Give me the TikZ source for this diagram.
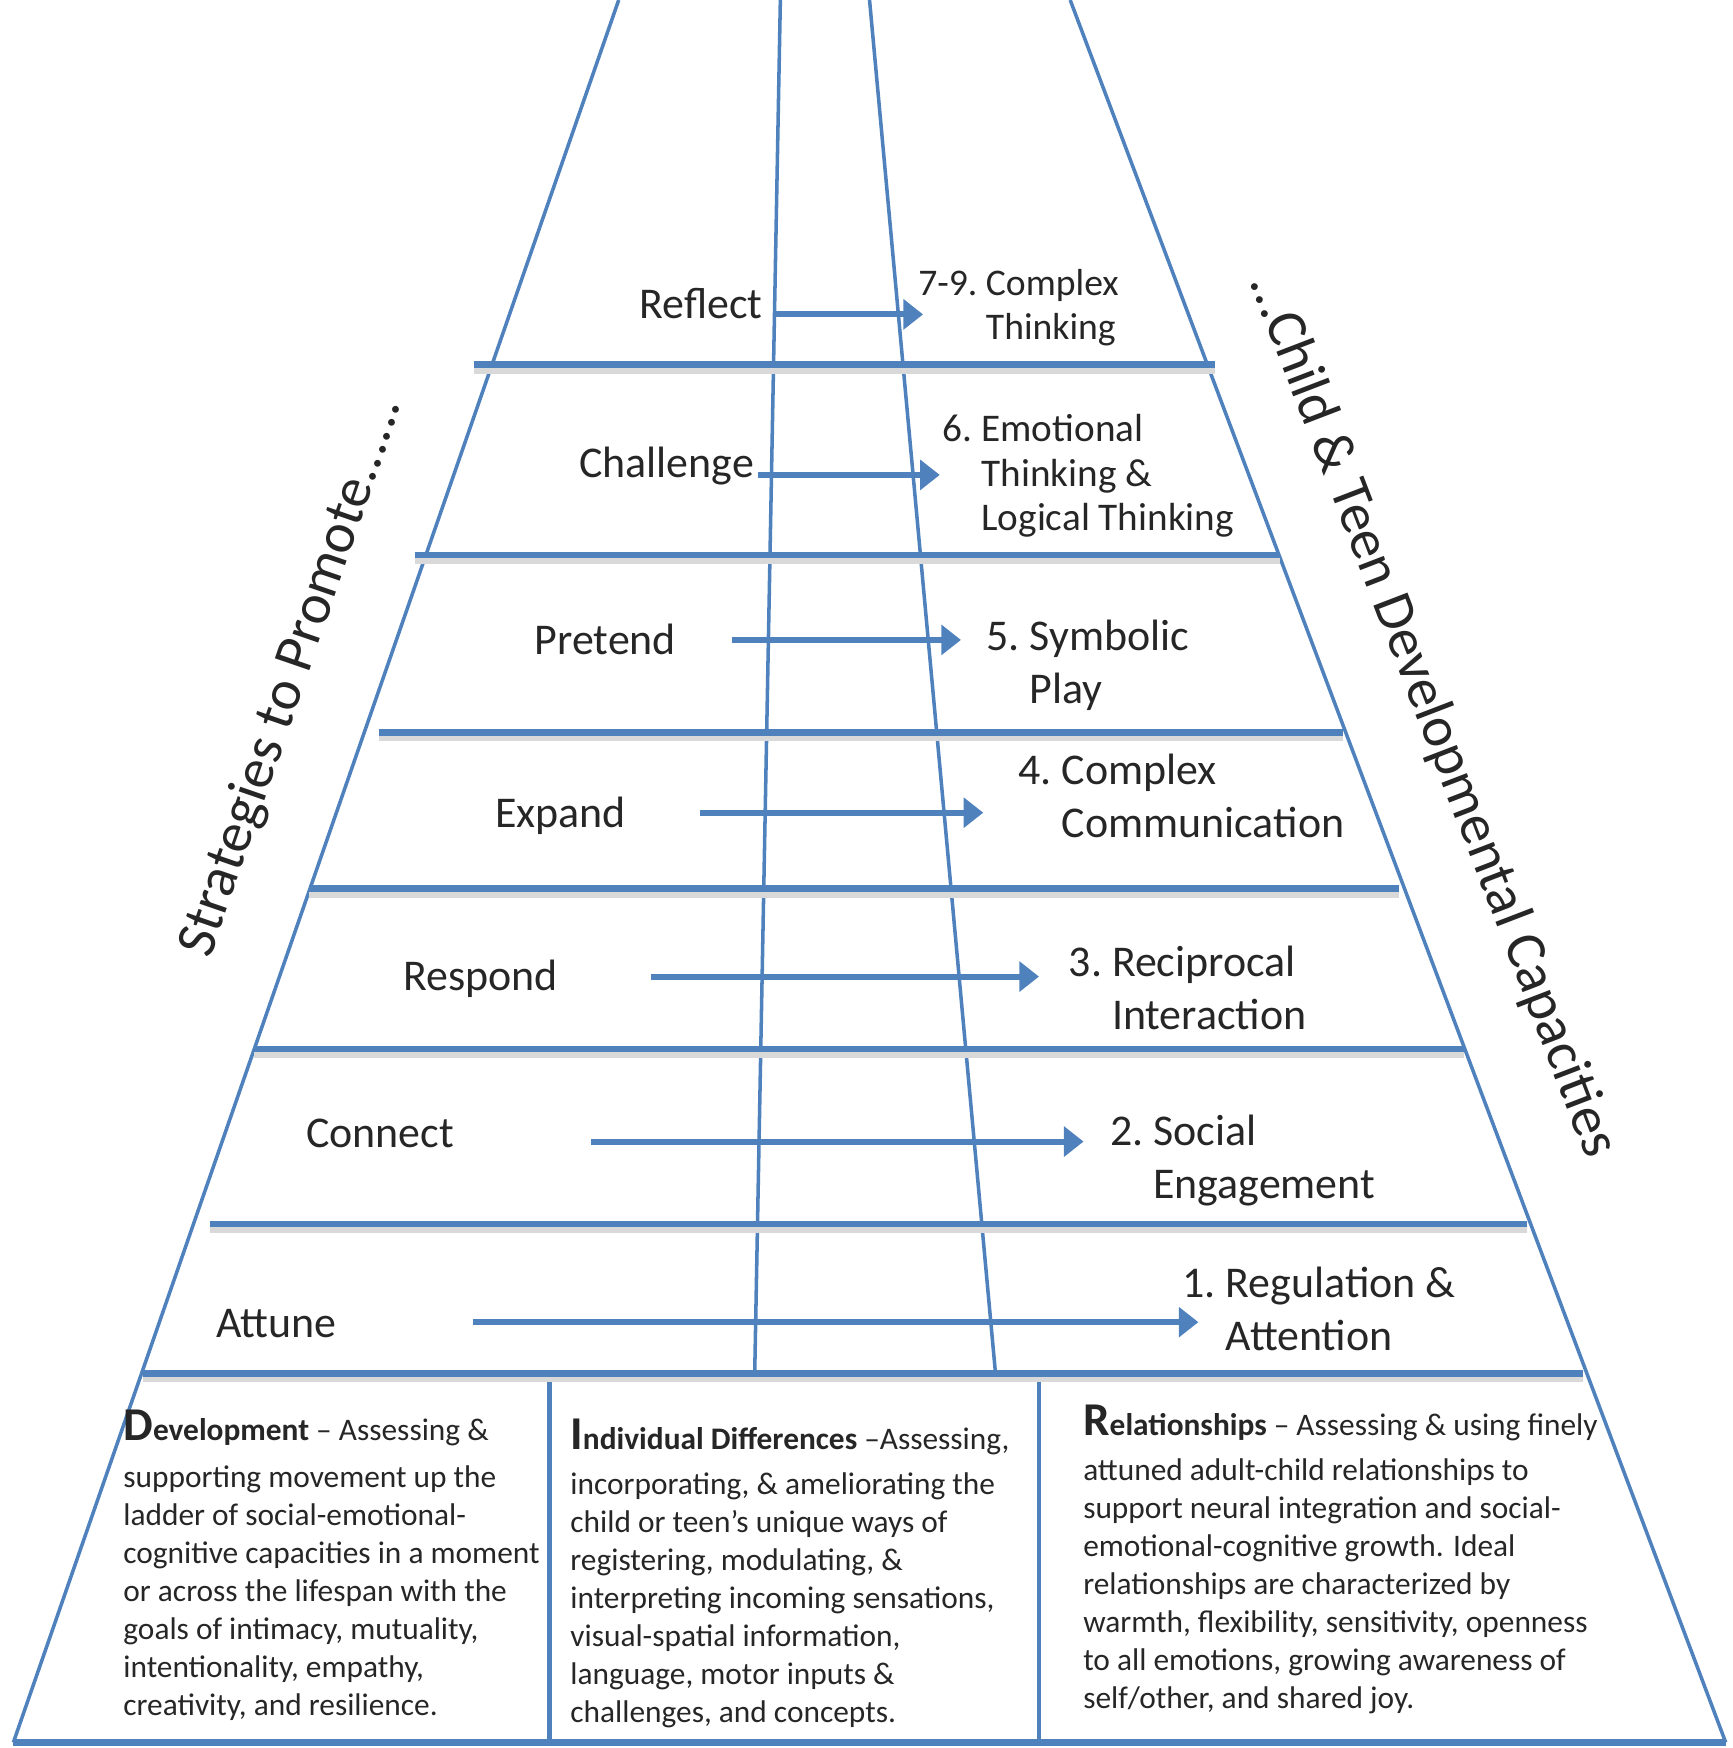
\documentclass[tikz,border=0pt]{standalone}
\usepackage{fontspec}
\setmainfont{Carlito}
\usetikzlibrary{arrows.meta}
\definecolor{dirblue}{RGB}{79,129,189}
\newcommand{\stagetext}[3]{\begin{tabular}{@{}l@{\ }l@{}}#1&#2\\&#3\end{tabular}}

\begin{document}
\begin{tikzpicture}[x=0.01cm, y=-0.01cm,
  every node/.style={text=black!85, inner sep=0pt},
  edge/.style={dirblue, line width=0.9pt},
  rung/.style={dirblue, line width=1.6pt, preaction={draw=black!15, line width=2pt, transform canvas={yshift=-1.3pt}}},
  link/.style={dirblue, line width=1.5pt, -{Triangle[length=5pt,width=7.5pt]}},
  strat/.style={font=\fontsize{11.2}{13.4}\selectfont},
  stagelbl/.style={anchor=west, font=\fontsize{11.2}{13.6}\selectfont},
  note/.style={anchor=north west, align=left, font=\fontsize{8}{9.7}\selectfont}]

  \useasboundingbox (0,0) rectangle (1554,1568);

  \draw[edge] (555,0) -- (12,1563);
  \draw[edge] (960,0) -- (1548,1563);
  \draw[edge] (700,0) -- (677,1232);
  \draw[edge] (780,0) -- (893,1232);
  \draw[edge, line width=1.1pt] (493,1232) -- (493,1563);
  \draw[edge, line width=1.1pt] (932,1232) -- (932,1563);

  \draw[rung] (425,327) -- (1090,327);
  \draw[rung] (372,498) -- (1148,498);
  \draw[rung] (340,657) -- (1205,657);
  \draw[rung] (277,797) -- (1255,797);
  \draw[rung] (228,941) -- (1313,941);
  \draw[rung] (188,1098) -- (1370,1098);
  \draw[rung] (128,1232) -- (1420,1232);
  \draw[dirblue, line width=1.6pt] (12,1563) -- (1548,1563);

  \node[strat] (reflect) at (629,272) {Reflect};
  \node[strat] (challenge) at (598,418) {Challenge};
  \node[strat] (pretend) at (543,574) {Pretend};
  \node[strat] (expand) at (503,732) {Expand};
  \node[strat] (respond) at (431,878) {Respond};
  \node[strat] (connect) at (341,1017) {Connect};
  \node[strat] (attune) at (248,1187) {Attune};

  \node[stagelbl, font=\fontsize{9.6}{11.1}\selectfont] (thinking) at (823,277) {\stagetext{7-9.}{Complex}{Thinking}};
  \node[stagelbl, font=\fontsize{10}{11.4}\selectfont] (emotional) at (845,428) {\stagetext{6.}{Emotional}{Thinking \&\\&Logical Thinking}};
  \node[stagelbl] (symbolic) at (884,598) {\stagetext{5.}{Symbolic}{Play}};
  \node[stagelbl] (complex) at (913,718) {\stagetext{4.}{Complex}{Communication}};
  \node[stagelbl] (reciprocal) at (958,890) {\stagetext{3.}{Reciprocal}{Interaction}};
  \node[stagelbl] (social) at (995,1042) {\stagetext{2.}{Social}{Engagement}};
  \node[stagelbl] (regulation) at (1060,1178) {\stagetext{1.}{Regulation \&}{Attention}};

  \coordinate (reflect-a) at (695,282);
  \coordinate (reflect-b) at (828,282);
  \coordinate (challenge-a) at (680,426);
  \coordinate (challenge-b) at (843,426);
  \coordinate (pretend-a) at (657,574);
  \coordinate (pretend-b) at (862,574);
  \coordinate (expand-a) at (628,729);
  \coordinate (expand-b) at (882,729);
  \coordinate (respond-a) at (584,876);
  \coordinate (respond-b) at (932,876);
  \coordinate (connect-a) at (530,1024);
  \coordinate (connect-b) at (972,1024);
  \coordinate (attune-a) at (424,1186);
  \coordinate (attune-b) at (1075,1186);

  \draw[link] (reflect-a) -- (reflect-b);
  \draw[link] (challenge-a) -- (challenge-b);
  \draw[link] (pretend-a) -- (pretend-b);
  \draw[link] (expand-a) -- (expand-b);
  \draw[link] (respond-a) -- (respond-b);
  \draw[link] (connect-a) -- (connect-b);
  \draw[link] (attune-a) -- (attune-b);

  \node[rotate=71, font=\fontsize{14.5}{17}\selectfont] (strategies) at (262,607) {Strategies to Promote......};
  \node[rotate=-69, font=\fontsize{14.5}{17}\selectfont] (capacities) at (1285,642) {...Child \& Teen Developmental Capacities};

  \node[note] (development) at (110,1264) {{\bfseries{\fontsize{12}{12}\selectfont D}evelopment} – Assessing \&\\[2.3pt]
    supporting movement up the\\ ladder of social-emotional-\\ cognitive capacities in a moment\\
    or across the lifespan with the\\ goals of intimacy, mutuality,\\ intentionality, empathy,\\ creativity, and resilience.};
  \node[note] (differences) at (511,1272) {{\bfseries{\fontsize{12}{12}\selectfont I}ndividual Differences} –Assessing,\\[1.7pt]
    incorporating, \& ameliorating the\\ child or teen’s unique ways of\\ registering, modulating, \&\\
    interpreting incoming sensations,\\ visual-spatial information,\\ language, motor inputs \&\\ challenges, and concepts.};
  \node[note] (relationships) at (971,1260) {{\bfseries{\fontsize{12}{12}\selectfont R}elationships} – Assessing \& using finely\\[1.7pt]
    attuned adult-child relationships to\\ support neural integration and social-\\ emotional-cognitive growth. Ideal\\
    relationships are characterized by\\ warmth, flexibility, sensitivity, openness\\ to all emotions, growing awareness of\\ self/other, and shared joy.};
\end{tikzpicture}
\end{document}
